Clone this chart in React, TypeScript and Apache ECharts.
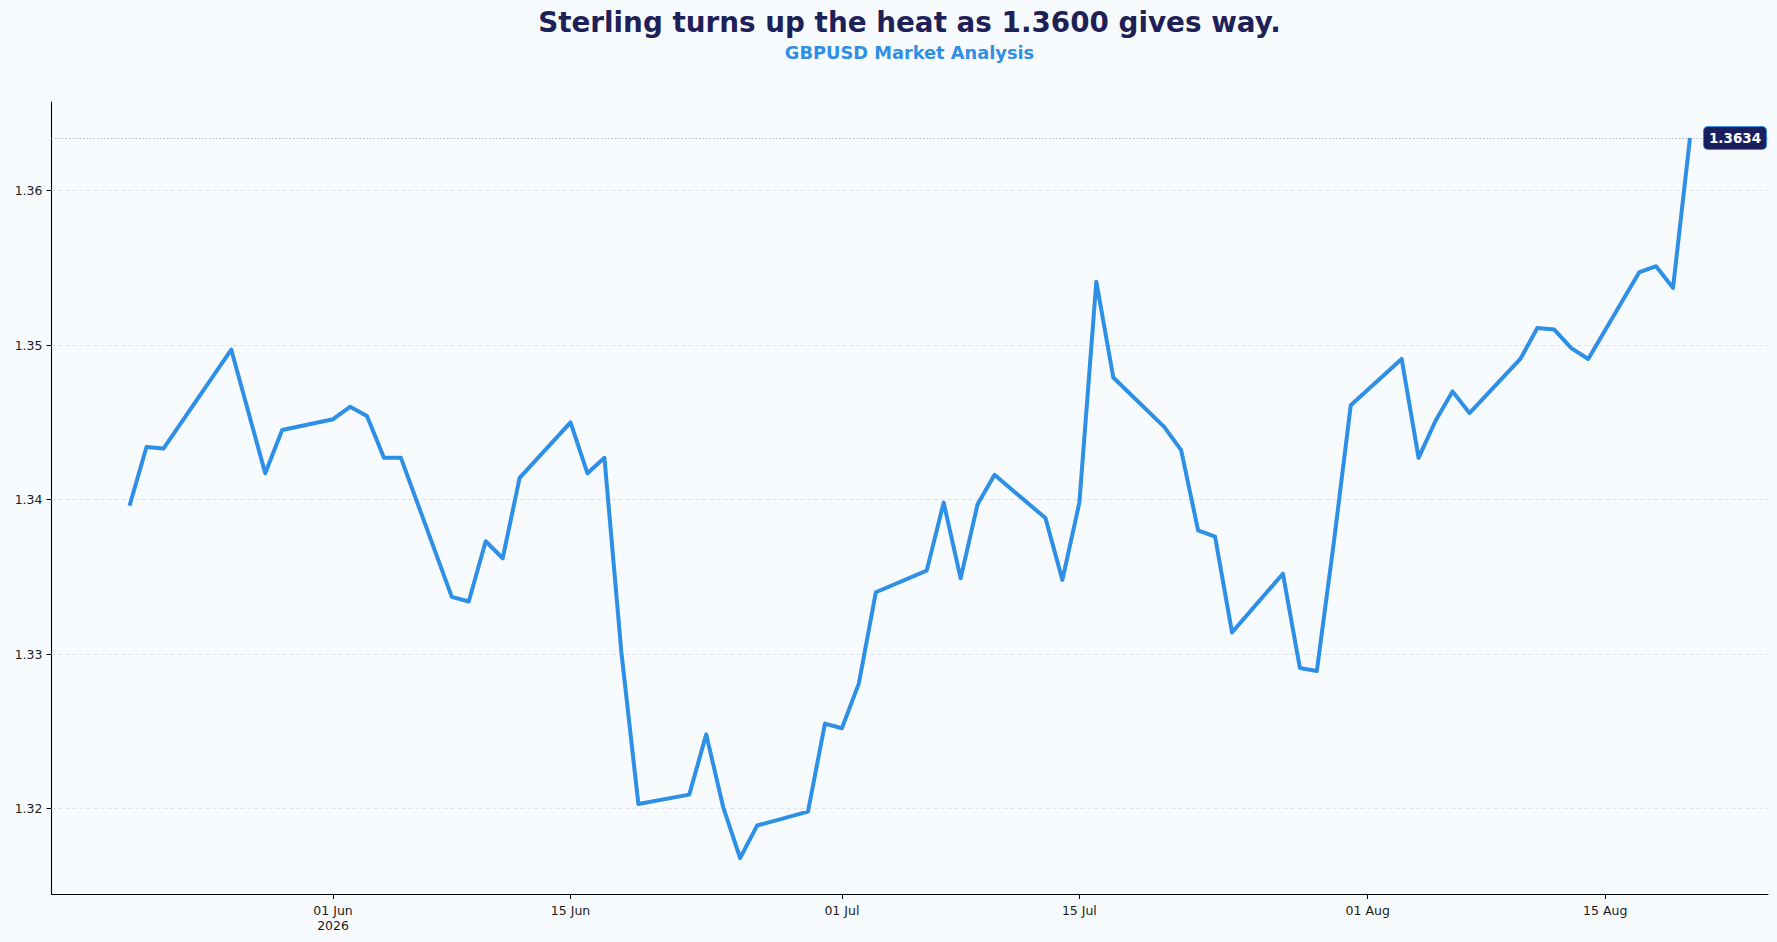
import React, { useEffect, useRef } from "react";
import * as echarts from "echarts";

const TITLE = "Sterling turns up the heat as 1.3600 gives way.";
const SUBTITLE = "GBPUSD Market Analysis";

const dates: string[] = [
  "2026-05-20", "2026-05-21", "2026-05-22", "2026-05-25", "2026-05-26", "2026-05-28", "2026-05-29",
  "2026-06-01", "2026-06-02", "2026-06-03", "2026-06-04", "2026-06-05",
  "2026-06-08", "2026-06-09", "2026-06-10", "2026-06-11", "2026-06-12",
  "2026-06-15", "2026-06-16", "2026-06-17", "2026-06-18", "2026-06-19",
  "2026-06-22", "2026-06-23", "2026-06-24", "2026-06-25", "2026-06-26",
  "2026-06-29", "2026-06-30", "2026-07-01", "2026-07-02", "2026-07-03",
  "2026-07-06", "2026-07-07", "2026-07-08", "2026-07-09", "2026-07-10",
  "2026-07-13", "2026-07-14", "2026-07-15", "2026-07-16", "2026-07-17",
  "2026-07-20", "2026-07-21", "2026-07-22", "2026-07-23", "2026-07-24",
  "2026-07-27", "2026-07-28", "2026-07-29", "2026-07-30", "2026-07-31",
  "2026-08-03", "2026-08-04", "2026-08-05", "2026-08-06", "2026-08-07",
  "2026-08-10", "2026-08-11", "2026-08-12", "2026-08-13", "2026-08-14",
  "2026-08-17", "2026-08-18", "2026-08-19", "2026-08-20",
];

const closes: number[] = [
  1.3396, 1.3434, 1.3433, 1.3481, 1.3497, 1.3417, 1.3445,
  1.3452, 1.3460, 1.3454, 1.3427, 1.3427,
  1.3337, 1.3334, 1.3373, 1.3362, 1.3414,
  1.3450, 1.3417, 1.3427, 1.3301, 1.3203,
  1.3209, 1.3248, 1.3201, 1.3168, 1.3189,
  1.3198, 1.3255, 1.3252, 1.3281, 1.3340,
  1.3354, 1.3398, 1.3349, 1.3397, 1.3416,
  1.3388, 1.3348, 1.3398, 1.3541, 1.3479,
  1.3447, 1.3432, 1.3380, 1.3376, 1.3314,
  1.3352, 1.3291, 1.3289, 1.3372, 1.3461,
  1.3491, 1.3427, 1.3451, 1.3470, 1.3456,
  1.3491, 1.3511, 1.3510, 1.3498, 1.3491,
  1.3547, 1.3551, 1.3537, 1.3634,
];

const xTickDates: string[] = ["2026-06-01", "2026-06-15", "2026-07-01", "2026-07-15", "2026-08-01", "2026-08-15"];
const yTicks: number[] = [1.32, 1.33, 1.34, 1.35, 1.36];
const MONTHS = ["Jan", "Feb", "Mar", "Apr", "May", "Jun", "Jul", "Aug", "Sep", "Oct", "Nov", "Dec"];

function toTime(s: string): number {
  const [y, m, d] = s.split("-").map(Number);
  return new Date(y, m - 1, d).getTime();
}

const FONT = '"DejaVu Sans", Verdana, sans-serif';

export default function App() {
  const ref = useRef<HTMLDivElement>(null);

  useEffect(() => {
    if (!ref.current) return;
    const chart = echarts.init(ref.current, null, { renderer: "svg" });

    const times = dates.map(toTime);
    const seriesData = times.map((t, i) => [t, closes[i]]);
    const tMin = times[0];
    const tMax = times[times.length - 1];
    const tPad = (tMax - tMin) * 0.05;
    const vMin = Math.min(...closes);
    const vMax = Math.max(...closes);
    const vPad = (vMax - vMin) * 0.05;
    const last = closes[closes.length - 1];
    const xTicks = xTickDates.map(toTime);

    const option: any = {
      animation: false,
      backgroundColor: "#f8fbfe",
      textStyle: { fontFamily: FONT },
      grid: { left: 51.5, right: 9, top: 102, bottom: 48, outerBoundsMode: "none", containLabel: false },
      graphic: [
        {
          type: "text",
          x: 909.5,
          y: 22.4,
          style: {
            text: TITLE,
            align: "center",
            verticalAlign: "middle",
            fill: "#1e2157",
            font: `bold 27.8px ${FONT}`,
          },
        },
        {
          type: "text",
          x: 909.5,
          y: 52.3,
          style: {
            text: SUBTITLE,
            align: "center",
            verticalAlign: "middle",
            fill: "#2f8fe6",
            font: `bold 17.8px ${FONT}`,
          },
        },
      ],
      xAxis: {
        type: "value",
        min: tMin - tPad,
        max: tMax + tPad,
        axisLine: { show: true, onZero: false, lineStyle: { color: "#000", width: 1.1 } },
        axisTick: { show: true, length: 5, customValues: xTicks, lineStyle: { color: "#000", width: 1 } },
        axisLabel: {
          customValues: xTicks,
          fontSize: 12.5,
          color: "#1a1a1a",
          margin: 9,
          lineHeight: 15,
          fontFamily: FONT,
          formatter: (v: number) => {
            const d = new Date(v);
            const dd = String(d.getDate()).padStart(2, "0");
            const s = `${dd} ${MONTHS[d.getMonth()]}`;
            return v === xTicks[0] ? `${s}\n${d.getFullYear()}` : s;
          },
        },
        splitLine: { show: false },
      },
      yAxis: {
        type: "value",
        min: vMin - vPad,
        max: vMax + vPad,
        axisLine: { show: true, lineStyle: { color: "#000", width: 1.1 } },
        axisTick: { show: true, length: 5, customValues: yTicks, lineStyle: { color: "#000", width: 1 } },
        axisLabel: {
          customValues: yTicks,
          fontSize: 12.5,
          color: "#1a1a1a",
          margin: 9,
          fontFamily: FONT,
          formatter: (v: number) => v.toFixed(2),
        },
        splitLine: { show: false },
      },
      series: [
        {
          type: "line",
          data: seriesData,
          showSymbol: false,
          silent: true,
          z: 1,
          lineStyle: { opacity: 0 },
          markLine: {
            silent: true,
            symbol: "none",
            precision: 6,
            z: 1,
            label: { show: false },
            data: [
              ...yTicks.map((v) => ({ yAxis: v, lineStyle: { type: [4, 3], color: "#d6dbe1", width: 0.8 } })),
              { yAxis: last, lineStyle: { type: [1.5, 2], color: "#b3b8c0", width: 1 } },
            ],
          },
        },
        {
          type: "line",
          data: seriesData,
          showSymbol: false,
          z: 3,
          lineStyle: { color: "#2e8fe6", width: 4, join: "round", cap: "butt" },
          itemStyle: { color: "#2e8fe6" },
          endLabel: {
            show: true,
            distance: 14,
            formatter: () => last.toFixed(4),
            color: "#ffffff",
            fontWeight: "bold",
            fontSize: 13.5,
            fontFamily: FONT,
            backgroundColor: "#1b1f5c",
            borderColor: "#2e8fe6",
            borderWidth: 1,
            borderRadius: 4,
            padding: [4, 5, 4, 5],
          },
        },
      ],
    };

    chart.setOption(option);
    return () => chart.dispose();
  }, []);

  return (
    <div
      ref={ref}
      style={{ position: "absolute", left: 0, top: 0, width: 1777, height: 942, background: "#f8fbfe" }}
    />
  );
}
